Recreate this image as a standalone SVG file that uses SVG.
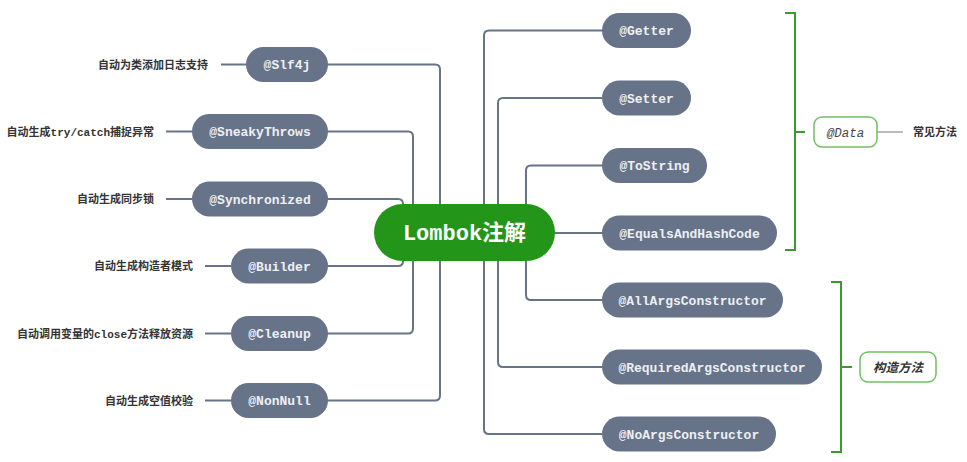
<svg xmlns="http://www.w3.org/2000/svg" width="967" height="462" viewBox="0 0 967 462">
<style>
.conn{fill:none;stroke:#687388;stroke-width:2;stroke-linecap:round}
.lbl-line{fill:none;stroke:#687388;stroke-width:2}
.node rect{fill:#667389}
.node text{font-family:"Liberation Mono","DejaVu Sans Mono",monospace;font-weight:bold;font-size:13px;fill:#eef0f4;text-anchor:middle}
.lbl{font-family:"Noto Sans CJK SC","Noto Sans",sans-serif;font-weight:bold;font-size:11px;fill:#333;text-anchor:end}
.mono{font-family:"Liberation Mono","Noto Sans CJK SC",monospace;font-weight:bold}
.brk{fill:none;stroke:#3a9a2c;stroke-width:2}
.gbox{fill:#fff;stroke:#72c064;stroke-width:1.5}
</style>
<rect width="967" height="462" fill="#fff"/>
<g id="connectors">
<path class="conn" d="M328,64.5 H435 Q440,64.5 440,69.5 V232"/>
<path class="conn" d="M328,131.5 H408 Q413,131.5 413,136.5 V232"/>
<path class="conn" d="M328,199 H398 Q403,199 403,204 V232"/>
<path class="conn" d="M328,266 H398 Q403,266 403,261 V232"/>
<path class="conn" d="M328,333.5 H408 Q413,333.5 413,328.5 V232"/>
<path class="conn" d="M328,400.5 H435 Q440,400.5 440,395.5 V232"/>
<path class="conn" d="M602,30.5 H489 Q484,30.5 484,35.5 V232"/>
<path class="conn" d="M602,98 H503 Q498,98 498,103 V232"/>
<path class="conn" d="M602,165.5 H531 Q526,165.5 526,170.5 V232"/>
<path class="conn" d="M555,233 H602"/>
<path class="conn" d="M602,300 H531 Q526,300 526,295 V232"/>
<path class="conn" d="M602,367 H503 Q498,367 498,362 V232"/>
<path class="conn" d="M602,434 H489 Q484,434 484,429 V232"/>
<path class="lbl-line" d="M221,64.5 H246"/>
<path class="lbl-line" d="M166,131.5 H192"/>
<path class="lbl-line" d="M166,199 H192"/>
<path class="lbl-line" d="M205,266 H231"/>
<path class="lbl-line" d="M205,333.5 H231"/>
<path class="lbl-line" d="M205,400.5 H231"/>
<path d="M877,132 H903" fill="none" stroke="#a3a8b2" stroke-width="1.5"/>
</g>
<g id="center">
<rect x="374" y="204" width="181" height="57" rx="28.5" fill="#23961a"/>
<text x="464.5" y="240" font-family="Liberation Mono,'Noto Sans CJK SC',monospace" font-weight="bold" font-size="22" fill="#fff" text-anchor="middle">Lombok<tspan font-family="'Noto Sans CJK SC',sans-serif">注解</tspan></text>
</g>
<g id="n-slf4j" class="node"><rect x="246" y="47" width="82" height="35" rx="17.5"/><text x="287" y="69">@Slf4j</text></g>
<g id="n-sneaky" class="node"><rect x="192" y="114" width="136" height="35" rx="17.5"/><text x="260" y="136">@SneakyThrows</text></g>
<g id="n-sync" class="node"><rect x="192" y="181.5" width="136" height="35" rx="17.5"/><text x="260" y="203.5">@Synchronized</text></g>
<g id="n-builder" class="node"><rect x="231" y="248.5" width="97" height="35" rx="17.5"/><text x="279.5" y="270.5">@Builder</text></g>
<g id="n-cleanup" class="node"><rect x="231" y="316" width="97" height="35" rx="17.5"/><text x="279.5" y="338">@Cleanup</text></g>
<g id="n-nonnull" class="node"><rect x="231" y="383" width="97" height="35" rx="17.5"/><text x="279.5" y="405">@NonNull</text></g>
<g id="n-getter" class="node"><rect x="602" y="13" width="89" height="35" rx="17.5"/><text x="646.5" y="35">@Getter</text></g>
<g id="n-setter" class="node"><rect x="602" y="80.5" width="89" height="35" rx="17.5"/><text x="646.5" y="102.5">@Setter</text></g>
<g id="n-tostring" class="node"><rect x="602" y="148" width="105" height="35" rx="17.5"/><text x="654.5" y="170">@ToString</text></g>
<g id="n-equals" class="node"><rect x="602" y="215.5" width="175" height="35" rx="17.5"/><text x="689.5" y="237.5">@EqualsAndHashCode</text></g>
<g id="n-allargs" class="node"><rect x="602" y="282.5" width="181" height="35" rx="17.5"/><text x="692.5" y="304.5">@AllArgsConstructor</text></g>
<g id="n-reqargs" class="node"><rect x="602" y="349.5" width="220" height="35" rx="17.5"/><text x="712" y="371.5">@RequiredArgsConstructor</text></g>
<g id="n-noargs" class="node"><rect x="602" y="416.5" width="174" height="35" rx="17.5"/><text x="689" y="438.5">@NoArgsConstructor</text></g>
<g id="labels">
<text class="lbl" x="208" y="68.5">自动为类添加日志支持</text>
<text class="lbl" x="154" y="135.5">自动生成<tspan class="mono">try/catch</tspan>捕捉异常</text>
<text class="lbl" x="154" y="203">自动生成同步锁</text>
<text class="lbl" x="193" y="270">自动生成构造者模式</text>
<text class="lbl" x="193" y="337.5">自动调用变量的<tspan class="mono">close</tspan>方法释放资源</text>
<text class="lbl" x="193" y="404.5">自动生成空值校验</text>
</g>
<g id="data-group">
<path class="brk" d="M785,13 H795 V250 H785 M795,132 H805"/>
<rect class="gbox" x="814" y="117" width="63" height="30" rx="8"/>
<text x="845.5" y="136.5" font-family="Liberation Mono,monospace" font-style="italic" font-size="12.5" fill="#444" text-anchor="middle">@Data</text>
<text x="913" y="136" font-family="'Noto Sans CJK SC',sans-serif" font-weight="bold" font-size="11" fill="#333">常见方法</text>
</g>
<g id="ctor-group">
<path class="brk" d="M831,282 H841 V452 H831 M841,367 H852"/>
<rect class="gbox" x="860" y="352" width="76" height="30" rx="8"/>
<text x="898" y="371.5" font-family="'Noto Sans CJK SC',sans-serif" font-weight="bold" font-style="italic" font-size="12.5" fill="#333" text-anchor="middle">构造方法</text>
</g>
</svg>
